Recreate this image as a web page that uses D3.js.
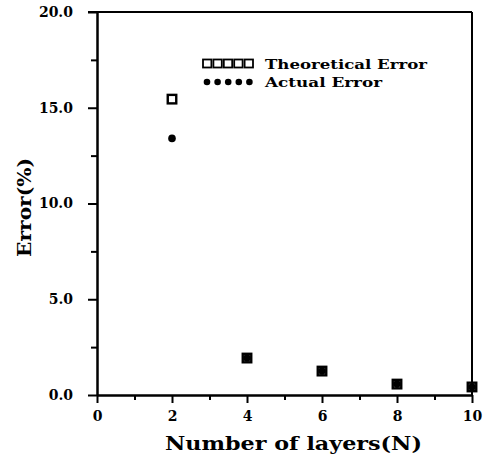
<!DOCTYPE html>
<html>
<head>
<meta charset="utf-8">
<script src="https://cdn.jsdelivr.net/npm/d3@7"></script>
<style>
  body { margin: 0; background: #fff; }
  svg text { font-family: "DejaVu Serif", serif; font-weight: bold; fill: #000; }
</style>
</head>
<body>
<div id="chart"></div>
<script>
var layers = [2, 4, 6, 8, 10];
var theoreticalError = [15.45, 1.93, 1.25, 0.57, 0.42];
var actualError = [13.4, 1.93, 1.25, 0.57, 0.42];
var xMajorTicks = [0, 2, 4, 6, 8, 10];
var xMinorTicks = [1, 3, 5, 7, 9];
var yMajorTicks = [0, 5, 10, 15, 20];
var yMinorTicks = [2.5, 7.5, 12.5, 17.5];

var width = 486, height = 455;
var plotLeft = 97, plotRight = 472, plotTop = 12, plotBottom = 395;

var svg = d3.select('#chart').append('svg').attr('width', width).attr('height', height);

var x = d3.scaleLinear().domain([0, 10]).range([plotLeft, plotRight]);
var y = d3.scaleLinear().domain([0, 20]).range([plotBottom, plotTop]);

function styleAxis(g) {
    g.selectAll('path, line').attr('stroke', '#000').attr('stroke-width', 2);
    g.selectAll('text').style('font-size', '14px');
}

// left axis, major + minor ticks
svg.append('g').attr('transform', 'translate(' + plotLeft + ',0)')
    .call(d3.axisLeft(y).tickValues(yMajorTicks).tickSize(9).tickSizeOuter(0).tickPadding(15).tickFormat(d3.format('.1f')))
    .call(styleAxis);
svg.append('g').attr('transform', 'translate(' + plotLeft + ',0)')
    .call(d3.axisLeft(y).tickValues(yMinorTicks).tickSize(6).tickSizeOuter(0).tickFormat(''))
    .call(styleAxis);

// bottom axis
svg.append('g').attr('transform', 'translate(0,' + plotBottom + ')')
    .call(d3.axisBottom(x).tickValues(xMajorTicks).tickSize(8).tickSizeOuter(0).tickPadding(8).tickFormat(d3.format('d')))
    .call(styleAxis);
svg.append('g').attr('transform', 'translate(0,' + plotBottom + ')')
    .call(d3.axisBottom(x).tickValues(xMinorTicks).tickSize(5).tickSizeOuter(0).tickFormat(''))
    .call(styleAxis);

// top and right frame
svg.append('line').attr('x1', plotLeft - 9).attr('x2', plotRight).attr('y1', plotTop).attr('y2', plotTop)
    .attr('stroke', '#000').attr('stroke-width', 2);
svg.append('line').attr('x1', plotRight).attr('x2', plotRight).attr('y1', plotTop).attr('y2', plotBottom)
    .attr('stroke', '#000').attr('stroke-width', 2);

// theoretical: open squares
svg.selectAll('rect.theo')
    .data(layers)
    .enter()
    .append('rect')
    .attr('class', 'theo')
    .attr('x', function (d) { return x(d) - 4.25; })
    .attr('y', function (d, i) { return y(theoreticalError[i]) - 4.25; })
    .attr('width', 8.5)
    .attr('height', 8.5)
    .attr('fill', 'none')
    .attr('stroke', '#000')
    .attr('stroke-width', 2.4);

// actual: filled dots
svg.selectAll('circle.act')
    .data(layers)
    .enter()
    .append('circle')
    .attr('class', 'act')
    .attr('cx', function (d) { return x(d); })
    .attr('cy', function (d, i) { return y(actualError[i]); })
    .attr('r', 3.8)
    .attr('fill', '#000');

// legend
var legendX = 203, legendY1 = 63.5, legendY2 = 82;
var legendMarks = d3.range(5);
svg.selectAll('rect.leg')
    .data(legendMarks)
    .enter()
    .append('rect')
    .attr('class', 'leg')
    .attr('x', function (d) { return legendX + d * 10.4; })
    .attr('y', legendY1 - 4)
    .attr('width', 8.4)
    .attr('height', 8)
    .attr('fill', 'none')
    .attr('stroke', '#000')
    .attr('stroke-width', 1.8);
svg.selectAll('circle.leg')
    .data(legendMarks)
    .enter()
    .append('circle')
    .attr('class', 'leg')
    .attr('cx', function (d) { return legendX + 4 + d * 10.6; })
    .attr('cy', legendY2)
    .attr('r', 3.3)
    .attr('fill', '#000');
svg.append('text').attr('x', 265).attr('y', legendY1 + 5)
    .attr('textLength', 162).attr('lengthAdjust', 'spacingAndGlyphs')
    .style('font-size', '13px').text('Theoretical Error');
svg.append('text').attr('x', 265).attr('y', legendY2 + 5)
    .attr('textLength', 117).attr('lengthAdjust', 'spacingAndGlyphs')
    .style('font-size', '13px').text('Actual Error');

// axis titles
svg.append('text').attr('x', 165).attr('y', 450)
    .attr('textLength', 257).attr('lengthAdjust', 'spacingAndGlyphs')
    .style('font-size', '19px').text('Number of layers(N)');
svg.append('text')
    .attr('transform', 'translate(31,257) rotate(-90)')
    .attr('textLength', 99).attr('lengthAdjust', 'spacingAndGlyphs')
    .style('font-size', '19px').text('Error(%)');
</script>
</body>
</html>
